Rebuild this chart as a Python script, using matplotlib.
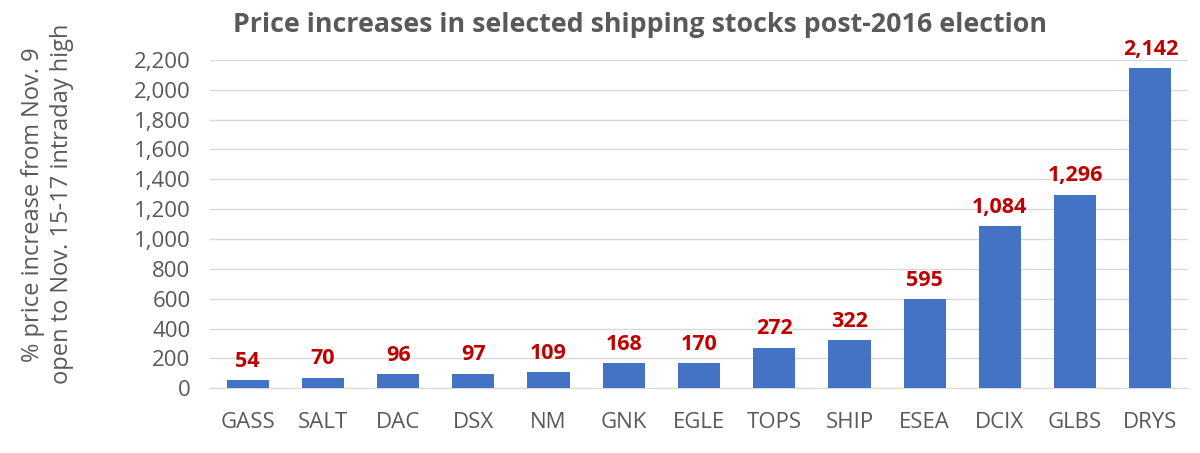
import numpy as np
import matplotlib.pyplot as plt

plt.rcParams['font.family'] = ['Open Sans', 'DejaVu Sans']

tickers = ['GASS', 'SALT', 'DAC', 'DSX', 'NM', 'GNK', 'EGLE', 'TOPS', 'SHIP',
           'ESEA', 'DCIX', 'GLBS', 'DRYS']
increase = [54, 70, 96, 97, 109, 168, 170, 272, 322, 595, 1084, 1296, 2142]

gray = '#595959'
x = np.arange(len(tickers))

fig = plt.figure(figsize=(12, 4.53), dpi=100)
ax = fig.add_axes([0.175, 0.143, 0.815, 0.725])

ax.bar(x, increase, 0.56, color='#4472C4', zorder=3)
for xi, v in zip(x, increase):
    ax.annotate(f'{v:,}', (xi, v), xytext=(0, 6), textcoords='offset points',
                ha='center', va='bottom', color='#C00000',
                fontsize=15.5, fontweight='bold', annotation_clip=False)

ax.set_xlim(-0.5, len(tickers) - 0.5)
ax.set_ylim(0, 2200)
ax.set_yticks(np.arange(0, 2201, 200))
ax.set_yticklabels([f'{t:,}' for t in range(0, 2201, 200)])
ax.set_xticks(x)
ax.set_xticklabels(tickers)
ax.grid(axis='y', color='#D9D9D9', linewidth=1, zorder=0)
ax.tick_params(length=0, labelsize=16, colors=gray)
ax.tick_params(axis='x', pad=17)
ax.tick_params(axis='y', pad=14)
for s in ax.spines.values():
    s.set_visible(False)
ax.spines['bottom'].set_visible(True)
ax.spines['bottom'].set_color('#D9D9D9')

ax.set_ylabel('% price increase from Nov. 9\nopen to Nov. 15-17 intraday high',
              fontsize=17, color=gray, va='center', linespacing=1.25)
ax.yaxis.set_label_coords(-0.166, 0.56)
fig.text(0.533, 0.945, 'Price increases in selected shipping stocks post-2016 election',
         ha='center', va='center', fontsize=19.3, fontweight='bold', color=gray)

fig.savefig('out.png', dpi=100)
